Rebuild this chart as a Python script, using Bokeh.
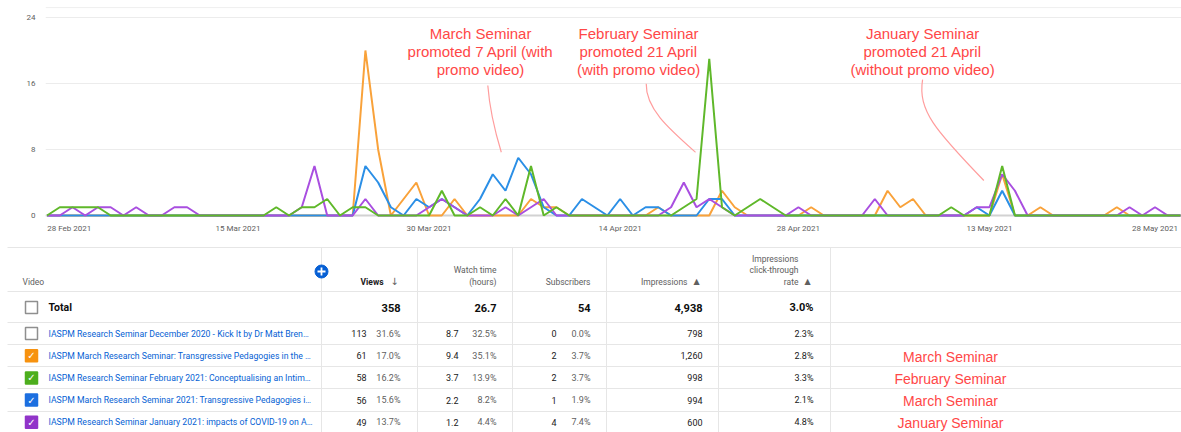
import pandas as pd
from bokeh.plotting import figure
from bokeh.models import Range1d, FixedTicker, Span
from bokeh.layouts import column
from bokeh.embed import file_html
from bokeh.resources import INLINE
from bokeh.core.properties import value

# ---------------- chart data: daily views, 28 Feb 2021 .. 28 May 2021 ----------------
START_DATE = "2021-02-28"

march_seminar_views = [          # orange
    0, 0, 0, 0, 0, 0, 0, 0, 0, 0,
    0, 0, 0, 0, 0, 0, 0, 0, 0, 0,
    0, 0, 0, 0, 0, 20, 8, 0, 2, 4,
    0, 0, 2, 0, 0, 0, 0, 0, 2, 1,
    1, 0, 0, 0, 0, 0, 0, 0, 1, 0,
    0, 0, 0, 3, 1, 0, 0, 0, 0, 0,
    1, 0, 0, 0, 0, 0, 3, 1, 2, 0,
    0, 0, 0, 0, 0, 5, 0, 0, 1, 0,
    0, 0, 0, 0, 1, 0, 0, 0, 0, 0,
]
march_seminar_2021_views = [     # blue
    0, 0, 0, 0, 0, 0, 0, 0, 0, 0,
    0, 0, 0, 0, 0, 0, 0, 0, 0, 0,
    0, 0, 0, 0, 0, 6, 4, 1, 0, 2,
    1, 2, 1, 0, 2, 5, 3, 7, 5, 1,
    0, 0, 2, 1, 0, 2, 0, 1, 1, 0,
    0, 0, 2, 2, 0, 0, 0, 0, 0, 0,
    0, 0, 0, 0, 0, 0, 0, 0, 0, 0,
    0, 0, 0, 1, 0, 3, 0, 0, 0, 0,
    0, 0, 0, 0, 0, 0, 0, 0, 0, 0,
]
jan_seminar_views = [            # purple
    0, 0, 1, 0, 1, 1, 0, 1, 0, 0,
    1, 1, 0, 0, 0, 0, 0, 0, 0, 0,
    1, 6, 0, 0, 0, 2, 0, 0, 0, 0,
    1, 2, 1, 0, 0, 0, 1, 0, 1, 2,
    0, 0, 0, 0, 0, 0, 0, 0, 0, 1,
    4, 1, 2, 1, 0, 0, 0, 0, 0, 1,
    0, 0, 0, 0, 0, 2, 0, 0, 0, 0,
    0, 0, 0, 1, 1, 5, 3, 0, 0, 0,
    0, 0, 0, 0, 0, 1, 0, 1, 0, 0,
]
feb_seminar_views = [            # green
    0, 1, 1, 1, 1, 0, 0, 0, 0, 0,
    0, 0, 0, 0, 0, 0, 0, 0, 1, 0,
    1, 1, 2, 0, 1, 1, 0, 0, 0, 0,
    0, 3, 0, 0, 1, 0, 2, 0, 6, 0,
    1, 0, 0, 0, 0, 0, 0, 0, 0, 0,
    1, 2, 19, 1, 0, 1, 2, 1, 0, 0,
    0, 0, 0, 0, 0, 0, 0, 0, 0, 0,
    0, 1, 0, 0, 0, 6, 0, 0, 0, 0,
    0, 0, 0, 0, 0, 0, 0, 0, 0, 0,
]

y_ticks = [0, 8, 16, 24]
x_tick_dates = ["2021-02-28", "2021-03-15", "2021-03-30", "2021-04-14",
                "2021-04-28", "2021-05-13", "2021-05-28"]

annotation_texts = [
    ["March Seminar", "promoted 7 April (with", "promo video)"],
    ["February Seminar", "promoted 21 April", "(with promo video)"],
    ["January Seminar", "promoted 21 April", "(without promo video)"],
]

# ---------------- table data ----------------
video_titles = [
    "IASPM Research Seminar December 2020 - Kick It by Dr Matt Bren…",
    "IASPM March Research Seminar: Transgressive Pedagogies in the …",
    "IASPM Research Seminar February 2021: Conceptualising an Intim…",
    "IASPM March Research Seminar 2021: Transgressive Pedagogies i…",
    "IASPM Research Seminar January 2021: impacts of COVID-19 on A…",
]
views = ["113", "61", "58", "56", "49"]
views_share = ["31.6%", "17.0%", "16.2%", "15.6%", "13.7%"]
watch_hours = ["8.7", "9.4", "3.7", "2.2", "1.2"]
watch_share = ["32.5%", "35.1%", "13.9%", "8.2%", "4.4%"]
subscribers = ["0", "2", "2", "1", "4"]
subscribers_share = ["0.0%", "3.7%", "3.7%", "1.9%", "7.4%"]
impressions = ["798", "1,260", "998", "994", "600"]
ctr = ["2.3%", "2.8%", "3.3%", "2.1%", "4.8%"]
totals = ["358", "26.7", "54", "4,938", "3.0%"]
row_notes = ["", "March Seminar", "February Seminar", "March Seminar", "January Seminar"]

# ---------------- styling ----------------
ROBOTO = value("Roboto")
ARIAL = value("Liberation Sans")
RED = "#ff4747"
GREY = "#606060"

series = [  # drawing order: orange, blue, purple, green (green on top)
    (march_seminar_views, "#f9a23a"),
    (march_seminar_2021_views, "#2b8fe6"),
    (jan_seminar_views, "#a94fe0"),
    (feb_seminar_views, "#5fb82a"),
]
box_colors = [None, "#f7920f", "#4dae1e", "#1c6fe0", "#9134c9"]

start = pd.Timestamp(START_DATE)
n_days = len(feb_seminar_views)
days = list(range(n_days))

# ---------------- chart ----------------
p = figure(width=1181, height=240,
           x_range=Range1d(-0.12, n_days - 1 + 0.08), y_range=Range1d(-0.364, 26.06),
           output_backend="svg", toolbar_location=None, frame_align=False,
           min_border_left=45, min_border_right=0, min_border_top=0, min_border_bottom=22)
p.outline_line_color = None
p.background_fill_color = "white"
p.border_fill_color = "white"
p.xgrid.visible = False
p.ygrid.grid_line_color = "#ececec"
p.ygrid.grid_line_width = 1

p.add_layout(Span(location=25.2, dimension="width", line_color="#efefef",
                  line_width=1, level="underlay"))
p.add_layout(Span(location=0, dimension="width", line_color="#d2d2d2",
                  line_width=2, level="underlay"))

for vals, col in series:
    p.line(days, vals, line_color=col, line_width=2)

# y axis
p.yaxis.ticker = FixedTicker(ticks=y_ticks)
p.yaxis.axis_line_color = None
p.yaxis.major_tick_line_color = None
p.yaxis.minor_tick_line_color = None
p.yaxis.major_tick_out = 0
p.yaxis.major_label_standoff = 10
p.yaxis.major_label_text_font = "Roboto"
p.yaxis.major_label_text_font_size = "8px"
p.yaxis.major_label_text_color = GREY

# x axis: dated ticks, end labels pulled inside the frame like the original
tick_pos, overrides = [], {}
for k, d in enumerate(x_tick_dates):
    ts = pd.Timestamp(d)
    pos = float((ts - start).days)
    if k == 0:
        pos += 1.75
    elif k == len(x_tick_dates) - 1:
        pos -= 2.0
    tick_pos.append(pos)
    overrides[pos] = ts.strftime("%d %b %Y")
p.xaxis.ticker = FixedTicker(ticks=tick_pos)
p.xaxis.major_label_overrides = overrides
p.xaxis.axis_line_color = None
p.xaxis.major_tick_line_color = None
p.xaxis.minor_tick_line_color = None
p.xaxis.major_tick_out = 0
p.xaxis.major_label_standoff = 5
p.xaxis.major_label_text_font = "Roboto"
p.xaxis.major_label_text_font_size = "8px"
p.xaxis.major_label_text_color = GREY

# annotations (positions in day / views units)
ann_centre_days = [34.04, 46.45, 68.75]
ann_line_values = [22.06, 19.88, 17.70]
ax, ay, at = [], [], []
for cx, lines in zip(ann_centre_days, annotation_texts):
    for yv, s in zip(ann_line_values, lines):
        ax.append(cx)
        ay.append(yv)
        at.append(s)
p.text(x=ax, y=ay, text=at, text_align="center", text_baseline="middle",
       text_color=RED, text_font=ARIAL, text_font_size="15px")

p.bezier(x0=[34.61, 47.05, 68.75], y0=[15.76, 15.96, 16.48],
         x1=[35.67, 50.92, 73.56], y1=[7.67, 7.67, 4.24],
         cx0=[34.75, 47.00, 68.36], cy0=[12.97, 12.97, 12.73],
         cx1=[35.22, 48.81, 69.77], cy1=[9.94, 10.55, 10.30],
         line_color="#ff9d9d", line_width=1.2)

# ---------------- table ----------------
t = figure(width=1181, height=192, x_range=Range1d(0, 1181), y_range=Range1d(432, 240),
           output_backend="svg", toolbar_location=None, frame_align=False,
           x_axis_location=None, y_axis_location=None, min_border=0)
t.grid.visible = False
t.outline_line_color = None
t.background_fill_color = "white"
t.border_fill_color = "white"

LINE = "#e6e6e6"
h_lines = [247, 291, 322, 344, 366, 388, 411]
v_lines = [321, 417, 512, 606, 718, 830]
t.segment(x0=[7] * len(h_lines), y0=h_lines, x1=[1181] * len(h_lines), y1=h_lines,
          line_color=LINE, line_width=1)
t.segment(x0=v_lines, y0=[247] * len(v_lines), x1=v_lines, y1=[432] * len(v_lines),
          line_color=LINE, line_width=1)

# header
hdr = dict(text_font=ROBOTO, text_font_size="8.5px", text_color=GREY, text_baseline="middle")
t.text(x=[22], y=[281], text=["Video"], text_align="left", **hdr)
t.text(x=[383], y=[281], text=["Views"], text_align="right", text_font=ROBOTO,
       text_font_size="8.5px", text_color="#202020", text_font_style="bold", text_baseline="middle")
t.text(x=[394], y=[281], text=["↓"], text_align="center", text_font=value("DejaVu Sans"),
       text_font_size="10px", text_color=GREY, text_baseline="middle")
t.text(x=[496, 496, 590, 687, 798, 798, 798], y=[269, 281, 281, 281, 258, 269, 281],
       text=["Watch time", "(hours)", "Subscribers", "Impressions",
             "Impressions", "click-through", "rate"],
       text_align="right", **hdr)
t.text(x=[696, 807], y=[281, 281], text=["▲", "▲"], text_align="center",
       text_font=value("DejaVu Sans"), text_font_size="8px", text_color=GREY,
       text_baseline="middle")
t.scatter(x=[321], y=[271], marker="circle", size=13, fill_color="#065fd4", line_color="#065fd4")
t.scatter(x=[321], y=[271], marker="cross", size=8, line_color="white", line_width=1.8)

# total row
total_y = 307
t.text(x=[48], y=[total_y], text=["Total"], text_align="left", text_font=ROBOTO,
       text_font_size="10.5px", text_font_style="bold", text_color="#0d0d0d",
       text_baseline="middle")
t.text(x=[400, 496, 590, 702, 813], y=[total_y] * 5, text=totals, text_align="right",
       text_font=ROBOTO, text_font_size="11px", text_font_style="bold",
       text_color="#0d0d0d", text_baseline="middle")

# video rows
row_y = [333 + 22.2 * k for k in range(len(video_titles))]
t.text(x=[48] * 5, y=row_y, text=video_titles, text_align="left", text_font=ROBOTO,
       text_font_size="8.7px", text_color="#065fd4", text_baseline="middle")
num = dict(text_align="right", text_font=ROBOTO, text_font_size="9px", text_baseline="middle")
t.text(x=[366] * 5, y=row_y, text=views, text_color="#202020", **num)
t.text(x=[400] * 5, y=row_y, text=views_share, text_color=GREY, **num)
t.text(x=[458] * 5, y=row_y, text=watch_hours, text_color="#202020", **num)
t.text(x=[496] * 5, y=row_y, text=watch_share, text_color=GREY, **num)
t.text(x=[556] * 5, y=row_y, text=subscribers, text_color="#202020", **num)
t.text(x=[590] * 5, y=row_y, text=subscribers_share, text_color=GREY, **num)
t.text(x=[702] * 5, y=row_y, text=impressions, text_color="#202020", **num)
t.text(x=[813] * 5, y=row_y, text=ctr, text_color="#202020", **num)

# checkboxes
box_y = [total_y] + row_y
fills = ["white"] + [c if c else "white" for c in box_colors]
lines = ["#8f8f8f"] + [c if c else "#8f8f8f" for c in box_colors]
t.scatter(x=[31] * len(box_y), y=box_y, marker="square", size=12,
          fill_color=fills, line_color=lines, line_width=1.5)
checked_y = [y for y, c in zip(row_y, box_colors) if c]
t.text(x=[31] * len(checked_y), y=checked_y, text=["✓"] * len(checked_y),
       text_align="center", text_baseline="middle", text_color="white",
       text_font=value("DejaVu Sans"), text_font_size="10px", text_font_style="bold")

# red notes
note_x = [950 for n in row_notes if n]
note_y = [y + 1 for y, n in zip(row_y, row_notes) if n]
t.text(x=note_x, y=note_y, text=[n for n in row_notes if n], text_align="center",
       text_baseline="middle", text_color=RED, text_font=ARIAL, text_font_size="14px")

layout = column(p, t, spacing=0)
open("out.html", "w").write(file_html(layout, INLINE))
